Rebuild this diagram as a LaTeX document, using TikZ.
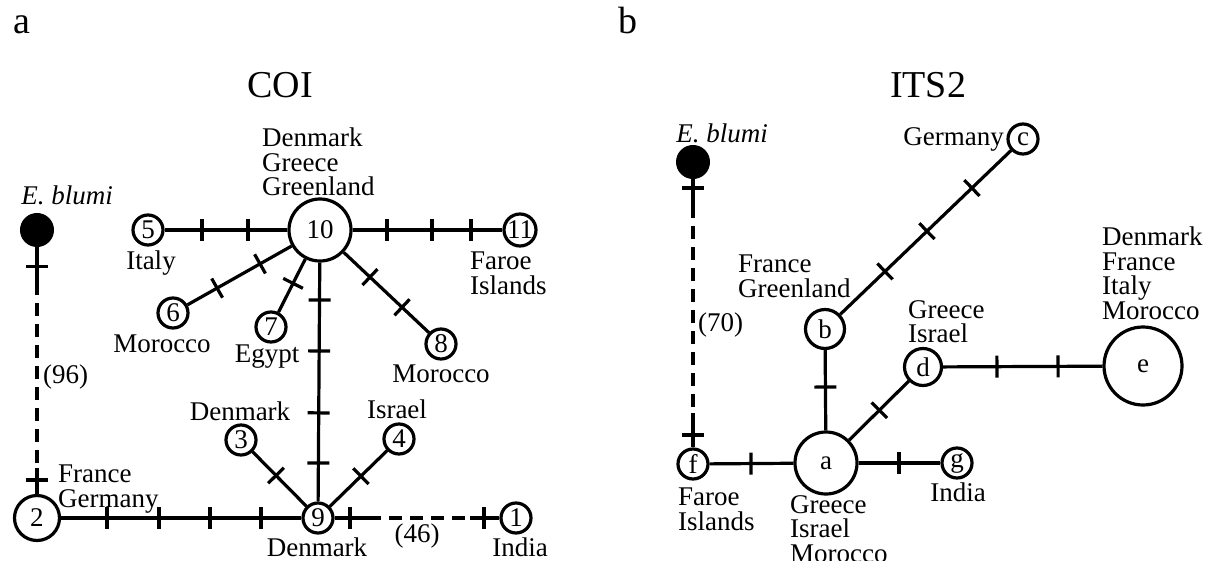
\documentclass[tikz,border=0pt]{standalone}
\usepackage{fontspec}
\setmainfont{Liberation Serif}
\usetikzlibrary{calc}
\newcommand\labfont{\fontsize{27}{24.5}\selectfont}
\newcommand\titlefont{\fontsize{38}{40}\selectfont}
\newcommand\tickat[3]{\coordinate (tk) at ($(#1)!#3!(#2)$);
  \draw[tickmark] ($(tk)!11pt!90:(#2)$) -- ($(tk)!11pt!-90:(#2)$);}
\begin{document}
\begin{tikzpicture}[x=1pt,y=-1pt,
  hap/.style={circle, draw, line width=3.2pt, inner sep=0pt, minimum size=30pt, font=\labfont},
  anc/.style={circle, fill, draw, line width=3pt, inner sep=0pt, minimum size=31pt},
  lbl/.style={inner sep=0pt, font=\labfont, align=left},
  ttl/.style={inner sep=0pt, font=\titlefont},
  edge/.style={line width=3.2pt},
  gapline/.style={line width=3.2pt, dash pattern=on 13pt off 8pt},
  tickmark/.style={line width=3.2pt}]
\useasboundingbox (0,0) rectangle (1213,560);

% titles
\node[ttl, anchor=base west] (pa) at (13,33) {a};
\node[ttl, anchor=base] (tcoi) at (280,97) {COI};
\node[ttl, anchor=base west] (pb) at (618,33) {b};
\node[ttl, anchor=base] (tits) at (928,97) {ITS2};

% ---------- COI ----------
\node[anc] (bA) at (37,230) {};
\node[hap, minimum size=45pt] (n2) at (37,518) {2};
\node[hap] (n9) at (318,518) {9};
\node[hap] (n1) at (516,518) {1};
\node[hap, minimum size=62pt] (n10) at (320,230) {10};
\node[hap] (n5) at (148,230) {5};
\node[hap, minimum size=32pt] (n11) at (520,230) {11};
\node[hap] (n6) at (173,313) {6};
\node[hap] (n7) at (271,327) {7};
\node[hap] (n8) at (441,344) {8};
\node[hap] (n3) at (241,440) {3};
\node[hap] (n4) at (399,439) {4};

\coordinate (dA1) at (37,282); \coordinate (dA2) at (37,468);
\draw[edge] (bA) -- (dA1); \draw[gapline] (dA1) -- (dA2); \draw[edge] (dA2) -- (n2);
\tickat{bA}{n2}{.128} \tickat{bA}{n2}{.868}

\draw[edge] (n2) -- (n9);
\tickat{n2}{n9}{.249} \tickat{n2}{n9}{.434} \tickat{n2}{n9}{.616} \tickat{n2}{n9}{.797}

\coordinate (dB1) at (368,518); \coordinate (dB2) at (470,518);
\draw[edge] (n9) -- (dB1); \draw[gapline] (dB1) -- (dB2); \draw[edge] (dB2) -- (n1);
\tickat{n9}{n1}{.162} \tickat{n9}{n1}{.838}

\draw[edge] (n10) -- (n9);
\tickat{n10}{n9}{.243} \tickat{n10}{n9}{.42} \tickat{n10}{n9}{.635} \tickat{n10}{n9}{.809}
\draw[edge] (n10) -- (n5);
\tickat{n10}{n5}{.419} \tickat{n10}{n5}{.686}
\draw[edge] (n10) -- (n11);
\tickat{n10}{n11}{.335} \tickat{n10}{n11}{.56} \tickat{n10}{n11}{.755}
\draw[edge] (n10) -- (n6);
\tickat{n10}{n6}{.408} \tickat{n10}{n6}{.70}
\draw[edge] (n10) -- (n7);
\tickat{n10}{n7}{.55}
\draw[edge] (n10) -- (n8);
\tickat{n10}{n8}{.413} \tickat{n10}{n8}{.678}
\draw[edge] (n9) -- (n3);
\tickat{n9}{n3}{.545}
\draw[edge] (n9) -- (n4);
\tickat{n9}{n4}{.53}

\node[lbl, anchor=base] (lbA) at (67,204) {\itshape E. blumi};
\node[lbl, anchor=base west] (l96) at (43,383) {(96)};
\node[lbl, anchor=north west] (l2) at (58,465) {France\\Germany};
\node[lbl, anchor=base] (l9) at (317,556) {Denmark};
\node[lbl, anchor=base] (l46) at (417,542) {(46)};
\node[lbl, anchor=base] (l1) at (520,556) {India};
\node[lbl, anchor=north west] (l10) at (262,128) {Denmark\\Greece\\Greenland};
\node[lbl, anchor=base] (l5) at (151,269) {Italy};
\node[lbl, anchor=north west] (l11) at (470,252) {Faroe\\Islands};
\node[lbl, anchor=base] (l6) at (162,352) {Morocco};
\node[lbl, anchor=base] (l7) at (267,362) {Egypt};
\node[lbl, anchor=base] (l8) at (441,382) {Morocco};
\node[lbl, anchor=base] (l3) at (240,420) {Denmark};
\node[lbl, anchor=base] (l4) at (397,418) {Israel};

% ---------- ITS2 ----------
\node[anc] (bB) at (693,162) {};
\node[hap] (f) at (693,464) {f};
\node[hap, minimum size=62pt] (a) at (826,463) {a};
\node[hap] (g) at (957,463) {g};
\node[hap, minimum size=39pt] (b) at (825,329) {b};
\node[hap] (c) at (1023,139) {c};
\node[hap, minimum size=37pt] (d) at (923,367) {d};
\node[hap, minimum size=78pt] (e) at (1143,366) {e};

\coordinate (dC1) at (693,205); \coordinate (dC2) at (693,413);
\draw[edge] (bB) -- (dC1); \draw[gapline] (dC1) -- (dC2); \draw[edge] (dC2) -- (f);
\tickat{bB}{f}{.086} \tickat{bB}{f}{.904}

\draw[edge] (f) -- (a);
\tickat{f}{a}{.436}
\draw[edge] (a) -- (g);
\tickat{a}{g}{.557}
\draw[edge] (a) -- (b);
\tickat{a}{b}{.567}
\draw[edge] (a) -- (d);
\tickat{a}{d}{.55}
\draw[edge] (b) -- (c);
\tickat{b}{c}{.303} \tickat{b}{c}{.515} \tickat{b}{c}{.742}
\draw[edge] (d) -- (e);
\tickat{d}{e}{.336} \tickat{d}{e}{.614}

\node[lbl, anchor=base] (lbB) at (722,142) {\itshape E. blumi};
\node[lbl, anchor=base west] (l70) at (698,331) {(70)};
\node[lbl, anchor=north west] (lb) at (738,255) {France\\Greenland};
\node[lbl, anchor=base east] (lc) at (1004,145) {Germany};
\node[lbl, anchor=north west] (ld) at (908,300) {Greece\\Israel};
\node[lbl, anchor=north west] (le) at (1102,227) {Denmark\\France\\Italy\\Morocco};
\node[lbl, anchor=north west] (lf) at (678,488) {Faroe\\Islands};
\node[lbl, anchor=north west] (la) at (790,495) {Greece\\Israel\\Morocco};
\node[lbl, anchor=base] (lg) at (958,501) {India};
\end{tikzpicture}
\end{document}
